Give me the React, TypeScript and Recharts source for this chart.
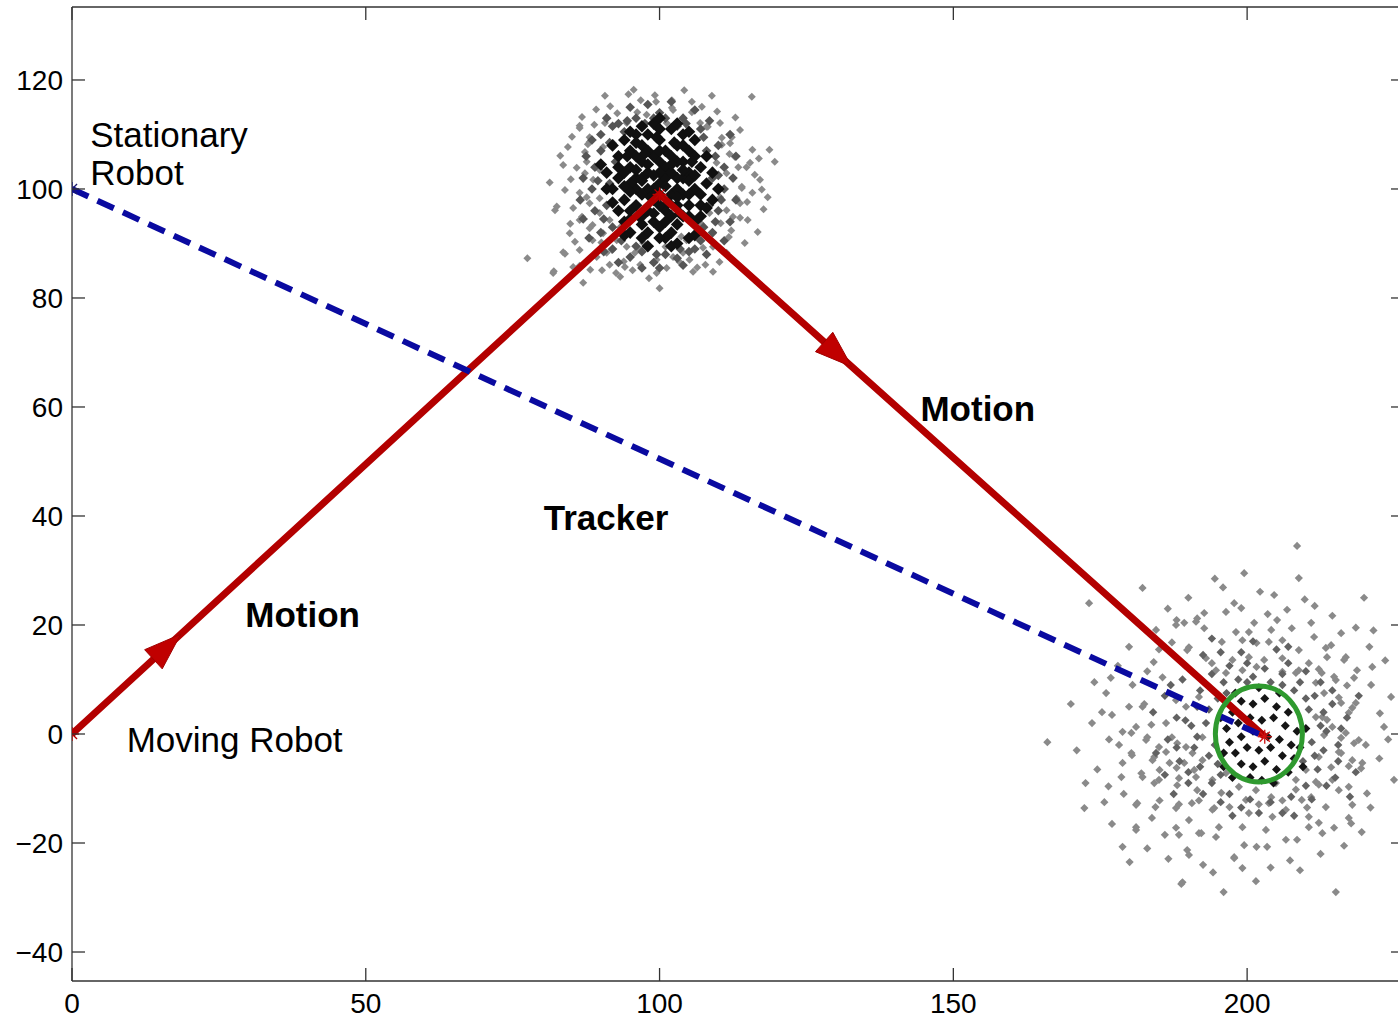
import React from 'react';
import { ScatterChart, Scatter, XAxis, YAxis } from 'recharts';

// ---------- axes ----------
const xTicks = [0, 50, 100, 150, 200];
const yTicks = [-40, -20, 0, 20, 40, 60, 80, 100, 120];
const X_DOMAIN: [number, number] = [0, 226.7];
const Y_DOMAIN: [number, number] = [-45.32, 133.39];

// ---------- paths ----------
const trackerPath: [number, number][] = [[0, 100], [203, -0.5]];
const motionPath: [number, number][] = [[0, 0], [100, 99], [203, -0.5]];
// arrow tips with direction (data units)
const arrows = [
  { x: 18.5, y: 18.3, dx: 1, dy: 0.99 },
  { x: 132.7, y: 67.4, dx: 1, dy: -0.966 },
];
// green ellipse (centre, radii in data units)
const ellipses = [{ x: 202, y: 0, rx: 7.4, ry: 8.8 }];
// star markers
const stars = [
  { x: 0, y: 100, color: '#1a1a70' },
  { x: 0, y: 0, color: '#b30000' },
  { x: 100, y: 99, color: '#c00000' },
  { x: 203, y: -0.5, color: '#d01010' },
];
// text annotations
const labels = [
  { x: 3.1, y: 107.7, text: 'Stationary', bold: false },
  { x: 3.1, y: 100.7, text: 'Robot', bold: false },
  { x: 9.3, y: -3.3, text: 'Moving Robot', bold: false },
  { x: 29.5, y: 19.6, text: 'Motion', bold: true },
  { x: 144.4, y: 57.4, text: 'Motion', bold: true },
  { x: 80.3, y: 37.4, text: 'Tracker', bold: true },
];

// ---------- particle clouds ----------
const topOuter: [number, number][] = [
  [90.7, 117.1], [99.2, 117.2], [99.4, 116], [108.9, 117.1], [115.7, 116.9], [102.1, 114.9], [105.5, 116], [86.8, 113.2],
  [92.8, 113.9], [96.2, 114.1], [97.8, 113.6], [86.4, 111.2], [90.7, 112.1], [94.4, 112.1], [101.2, 112.1], [105.5, 114.1],
  [108, 111.4], [110.3, 112.1], [113.7, 110.8], [112.3, 109.5], [84.4, 107.7], [88.1, 108.6], [87.3, 106.8], [110.6, 108.1],
  [115.8, 107.2], [118.7, 107.2], [119.6, 105], [83.6, 104.4], [85.9, 103.9], [87.6, 105], [113.4, 104], [115.4, 104.8],
  [117.1, 101.7], [83.9, 99.8], [86.4, 99.3], [82.2, 96.1], [85.3, 96.5], [88.1, 97.4], [114, 100.4], [115.8, 99.3],
  [118.4, 98.5], [113.7, 97.4], [86.4, 94.3], [88.6, 93.4], [112.5, 94.9], [115, 94.3], [84.7, 91.9], [116.7, 92.1],
  [83.6, 88.4], [86.4, 88.8], [88.6, 90.6], [91, 88.3], [94.4, 89.4], [96.7, 88.8], [104, 88.3], [106.9, 90.6],
  [109.1, 89.4], [111.4, 88.3], [81.9, 84.6], [85.3, 85.7], [90.2, 85.1], [93.3, 83.9], [96.7, 86.1], [100, 81.8],
  [105.7, 84.8], [109.1, 84.8], [103.4, 86.6], [99.5, 87], [86.4, 111.6], [88.1, 109.5], [87.8, 108.2], [90.4, 107.7],
  [92.1, 108.4], [87.3, 102.9], [89.8, 103.5], [88.7, 101.7], [91.2, 100.4], [87.6, 98.5], [89.8, 98.3], [82.5, 96.8],
  [86.8, 94.9], [89.8, 95.6], [91.5, 94.3], [88.1, 92.8], [90.4, 91.9], [93.3, 93], [92.7, 90.6], [95, 91.9],
  [91.9, 88.8], [89.3, 87.5], [86.4, 85.9], [91.5, 86.1], [94.1, 85.7], [83.9, 88.1], [82, 84.9], [87, 82.8],
  [99.5, 84.6], [95.8, 88.3], [102.1, 116.3], [102.3, 114.5], [106.9, 112.1], [108.2, 111.4], [110.6, 109.4], [112, 108.4],
  [112.8, 105.9], [114.8, 104], [109.7, 104.8], [111.4, 102.9], [114, 100.2], [113.1, 98.3], [110.3, 98.5], [111.4, 96.1],
  [108.5, 95.6], [113.7, 94.7], [106.9, 93.8], [109.1, 91.9], [104.6, 90.6], [107.4, 89.2], [114.5, 90.1], [101, 89.4],
  [102.3, 87.5], [105.1, 87], [101.2, 85.5], [77.5, 87.3], [94.7, 117.4], [116.2, 102.6], [84.9, 101.8], [111.8, 91.2],
  [93.9, 86.7], [107.8, 86.1], [117.7, 96.3], [85.6, 90.3], [89.2, 114.6], [112.9, 113.1], [104.2, 118.1], [96.8, 116.3],
  [85.1, 109.6], [88.9, 111.8], [91.6, 115.2], [95.6, 118.2], [107.2, 115.1], [109.8, 114.2], [111.9, 106.4], [116.9, 105.6],
  [117.4, 99.9], [112.2, 92.4], [110.2, 86.6], [106.4, 85.6], [98.2, 83.6], [95.4, 85.1], [92.6, 84.6], [88.2, 85.2],
  [84.8, 93.6], [81.3, 101.2], [83.1, 106.1], [90.1, 90.2], [110.4, 93.7], [114.9, 97.6], [97.2, 90.1], [103.7, 91.3],
];
const topMid: [number, number][] = [
  [90, 110], [93, 112], [96, 113], [100, 114], [104, 113], [107, 111], [110, 108], [111, 104], [111, 100], [110, 96],
  [109, 92], [106, 89], [103, 87.3], [99, 86.5], [95, 87.5], [92, 89], [90, 92], [89, 96], [88.5, 100], [89, 104],
  [90, 107], [92, 111.5], [95, 115], [98, 115.5], [102, 116], [106, 114.5], [108.5, 112.5], [112, 110], [113, 106], [112.5, 102],
  [113, 98], [112, 94], [111, 90.5], [108, 88], [104, 86], [100, 85.5], [97, 85.5], [93, 86.5], [90.5, 88.5], [88, 91],
  [87, 94.5], [86.5, 98], [87, 102], [87.5, 106], [88.5, 109], [91, 113], [94, 110.5], [108, 107], [109, 102], [108.5, 97],
  [107.5, 93], [92, 93], [91, 97], [91.5, 101], [92.5, 105], [97, 88.5], [101, 88], [105, 88.5], [99, 113], [103, 111.5],
  [89.5, 101.5], [90.5, 94.5], [93.5, 90.5], [96, 89.5], [99.5, 88], [103.5, 89], [107, 90.5], [109.5, 94], [110.5, 98],
  [110, 102.5], [109.5, 106], [107.5, 109.5], [104.5, 112], [101, 113], [97.5, 112], [94.5, 112.5], [91.5, 108.5], [90, 104.5],
];
const topCore: [number, number][] = [
  [100, 101], [98, 103], [102, 99], [96, 100], [104, 102], [99, 106], [101, 96], [97, 95], [103, 105], [95, 104],
  [105, 97], [100, 109], [98, 92], [102, 92], [94, 98], [106, 100], [97, 108], [103, 108], [93, 102], [107, 104],
  [99, 98], [101, 104], [96, 97], [104, 95], [95, 107], [105, 107], [100, 93], [98, 110], [102, 111], [94, 94],
  [106, 94], [93, 106], [107, 97], [96, 102], [104, 99], [99, 100], [101, 102], [97, 105], [103, 102], [100, 97],
  [98, 96], [102, 95], [95, 101], [105, 103], [100, 105], [96, 110], [104, 110], [92, 100], [108, 101], [99, 112],
  [97, 91], [103, 90], [94, 109], [106, 109], [95, 92], [105, 91], [101, 107], [98, 100], [102, 103], [100, 99],
  [96, 106], [104, 105], [93, 96], [107, 95], [99, 94], [101, 91], [97, 99], [103, 97], [95, 96], [105, 99],
  [100, 103], [98, 107], [102, 106], [94, 103], [106, 106], [91, 103], [109, 98], [100, 111], [97, 102], [103, 100],
  [99, 102.5], [101, 100.5], [97, 101.5], [103, 98.5], [95, 99.5], [105, 101.5], [98, 104.5], [102, 104.5], [100, 107], [96, 103.5],
  [104, 103.5], [99, 95.5], [101, 94], [97, 93.5], [103, 93.5], [95, 94.5], [105, 95], [94, 100.5], [106, 102.5], [100, 91],
  [98, 89.5], [102, 89.5], [96, 108.5], [104, 108], [93, 104], [107, 99], [92, 97.5], [108, 96.5], [100, 113], [97, 111.5],
  [103, 112], [95, 110.5], [105, 110.5], [91, 100], [109, 103], [94, 91.5], [106, 91.5], [92, 108], [108, 106], [90, 104.5],
  [110, 100], [98.5, 98.5], [101.5, 97.5], [96.5, 95], [103.5, 95.5], [99.5, 109.5], [97.5, 106.5], [102.5, 108.5], [94.5, 106], [105.5, 105],
];
const bottomOuter: [number, number][] = [
  [182.2, 26.8], [208.8, 28.6], [202.2, 26.1], [204.6, 25.5], [219.9, 25], [173.1, 24], [197.8, 24], [199, 23.1],
  [206.8, 22.8], [192.7, 22.2], [196.4, 22.4], [191.3, 20.6], [189.3, 20.4], [187.9, 20], [201.2, 20.4], [205.1, 20.9],
  [210.9, 20.4], [192.7, 19.4], [198.1, 18.7], [200.3, 18.7], [204.1, 19.1], [207.6, 19.4], [179.9, 16], [195.7, 16.9],
  [199.2, 17.2], [201.6, 16.7], [203.7, 16.9], [206, 17.2], [208.8, 15.4], [213.4, 15.8], [213.6, 14.1], [216.8, 14.1],
  [220.8, 16], [221.3, 12.3], [189.8, 15.4], [193, 13.9], [197.5, 13.6], [200.3, 14.1], [202.9, 13.6], [206, 13.9],
  [210.5, 13], [194.7, 11.7], [199.2, 11.7], [201.6, 12.3], [206, 11.4], [208.3, 11.2], [212.7, 11.2], [215.1, 9.9],
  [218.2, 10.3], [221.1, 9], [211.7, 9.4], [224.5, 6.8], [223.3, 1.3], [179.9, 5], [182.2, 5], [187.9, 6.2],
  [189.6, 5], [191.8, 6.8], [175.3, 4], [177, 3.5], [173.6, 2], [178.8, 0.4], [181.1, 1.3], [183.7, 1.7],
  [186.2, 2], [178.2, -2], [182.8, -1.1], [185, -2.4], [187.2, -0.6], [189.6, -2.4], [192.4, -0.6], [180.3, -3.5],
  [183.9, -4.8], [186.8, -5.3], [189.3, -5.3], [192.4, -4.8], [178.6, -7.9], [182.2, -7.9], [185, -8.4], [188.4, -8.1],
  [191.3, -7.9], [194.1, -8.4], [196.4, -7.2], [198.6, -9.7], [201.5, -10.3], [204.9, -9], [208.3, -8.4], [211.7, -8.8],
  [214.5, -8.4], [217.3, -9.7], [219.6, -5.3], [217.9, -4.8], [216, -3.5], [219, -1.1], [216.8, 0.2], [214.5, 1.3],
  [212.8, 3.1], [217.3, 3.9], [216, 5.7], [218.5, 5.7], [172.3, -13.6], [175.7, -12.5], [181.1, -13], [184.4, -13.4],
  [187.9, -13.6], [190.6, -12.7], [194.1, -13.9], [197, -13.4], [200.3, -14.5], [203.7, -12.7], [206.6, -13.9], [209.3, -12.1],
  [213.4, -13.4], [217.9, -13], [217.3, -15.4], [181.1, -17.1], [187.9, -17.2], [191.8, -18.2], [194.7, -18.9], [199.2, -17.1],
  [203.2, -17.6], [206.6, -19.4], [210.5, -17.1], [212.8, -18.2], [178.8, -20.7], [189.8, -21.3], [197.8, -22.6], [199.2, -24.6],
  [201.6, -20.7], [189, -27.2], [215.1, -29], [210.5, -15.2], [195.6, -10.8], [166, -1.5], [208.5, 34.5], [214.3, 16.3],
  [216.5, 13.6], [218.7, 11.7], [217, 8.9], [212.2, 11.9], [208.8, 11.7], [214.8, 10.5], [213.1, 7.5], [215.6, 6.7],
  [217.9, 4.8], [220.2, -2], [218.2, -1.7], [216, -0.7], [213.6, 2.6], [211.7, 3.1], [213.1, -0.2], [215.6, -3.3],
  [212.2, -4.2], [214.3, -6.1], [217.3, -5.9], [219.4, -6.3], [225, -8.4], [212.2, -9.3], [215.6, -10.3], [210, -6.6],
  [208.3, -10.2], [210.9, -11.6], [217.7, -16.4], [210.2, -13.5], [206, -12.2], [204.1, -11.6], [202, -12.9], [199.8, -12.1],
  [204.3, -15.2], [212.2, -16.3], [214.8, -17.2], [208.5, -19.4], [203.4, -20.7], [199.5, -20.4], [188, 20.9], [191.5, 21.2],
  [194, 13], [196.4, 11.2], [190.1, 15.9], [182.5, 5.5], [180.3, 0.2], [183, -0.6], [180.4, -3.9], [184.2, -4.2],
  [186.2, -3.3], [188.1, -1.7], [190.7, -3.5], [178.8, -5.3], [182, -7.2], [185.1, -6.6], [188, -6.2], [191, -6.6],
  [184.2, -9], [188.1, -9.4], [191.5, -10.3], [181.3, -12.7], [185.1, -12.2], [188.4, -12.9], [191.8, -12.2], [194.4, -13.6],
  [183.8, -15.4], [190.1, -15.8], [181.1, -17.6], [188.4, -18.5], [192.2, -18.2], [195.2, -17.1], [190.1, -22.2], [197.8, -22.8],
  [188.8, -27.5], [185.6, 10.4], [184.1, 13.2], [187.2, 16.8], [222.6, 3.8], [220.4, -10.9], [176.4, -9.6], [195.9, 26.9],
  [209.8, 24.7], [214.5, 21.7], [186.6, -22.9], [207.3, -23.2], [194.2, -25.4], [211.4, 17.8], [184.5, 19.1], [176.8, 10.3],
  [176, 7.5], [178, 12.5], [180.5, 9], [183, 11.5], [185, 15.5], [186.5, 23], [190, 25], [194.5, 28.5],
  [199.5, 29.5], [203.5, 22], [211.5, 23.5], [216, 18.5], [218.5, 19.5], [221.5, 19], [223.5, 13.5], [222.5, -4.5],
  [224, -1], [221, -13.5], [219.5, -18], [216.5, -20.5], [212.5, -22], [209, -25], [204, -24.5], [201.5, -27],
  [196, -29], [192.5, -24], [186, -18.5], [183, -21], [180, -23.5], [177, -16.5], [174.5, -6.5], [171, -3],
  [170, 5.5], [174, 9.5], [176.5, -1], [179, -11], [172.5, -9],
];
const bottomMid: [number, number][] = [
  [192, 8], [194, 11], [197, 12.5], [200, 13], [203, 12], [206, 11], [209, 9.5], [211.5, 7], [213, 4], [213.5, 0.5],
  [213, -3], [212, -6.5], [210, -9.5], [207.5, -11.5], [204, -12.5], [200.5, -12], [197, -11], [194, -9], [192, -6], [191, -2.5],
  [190.5, 1.5], [191.5, 5], [195, 6.5], [193, 2], [193.5, -4], [195.5, -7.5], [210.5, 4.5], [211, -1.5], [209.5, -5], [196, 9.5],
  [208, 8], [189, 10], [188, 3], [188.5, -5], [190, -9], [214.5, 8], [215.5, -2], [215, -8], [199, 15], [205, 15.5],
  [186, 7], [186.5, -1], [217, 3], [202, -14.5], [197.5, -15], [208, -15],
  [187, 9], [189.5, 12.5], [192.5, 14.5], [195.5, 15], [198.5, 10], [201, 10.5], [204, 9.5], [207, 13], [210, 11.5], [212.5, 9.5],
  [214.5, 5.5], [216, 1], [215.5, -5], [213.5, -9.5], [211, -12], [206, -14.5], [199, -13.5], [195.5, -12.5], [192.5, -11], [190, -7],
  [188, -2.5], [189.5, 2.5], [191.5, -0.5], [193.5, 4.5], [194.5, -2], [195, -5.5], [211.5, -4], [212.5, 1.5], [210, 6.5], [206, 9],
  [200, 9.5], [196.5, 7.5], [184, 4], [184.5, -3.5], [186, -7.5], [187.5, -11], [219, 7], [218.5, -7], [217.5, -11.5], [201, 17],
  [207, 16], [194, 17.5],
];
const bottomCore: [number, number][] = [
  [197.5, 4], [199, 6], [201, 5.5], [203, 6.5], [205, 5], [207, 4], [196.5, 1], [198.5, 2], [200.5, 3], [202.5, 2.5],
  [204.5, 3], [206.5, 1.5], [208.5, 0.5], [197, -1.5], [199, -0.5], [201, 0.5], [203.5, -0.5], [205.5, -1], [207.5, -2], [198, -3.5],
  [200, -2.5], [202, -3], [204, -2.5], [206, -4], [208, -4.5], [199, -5.5], [201, -6], [203, -5], [205, -6.5], [207, -7],
  [200.5, -8], [202.5, -8.5], [204.5, -9], [196, -6], [197.5, -8], [209, -2.5], [210, 1], [198, 7.5], [202, 8.5], [205.5, 7.5],
  [195.5, 3], [196, -3.5], [209.5, -6],
];

// ---------- geometry ----------
const CHART_W = 1420;
const CHART_H = 1018;
const MARGIN = { top: 6, right: 15, bottom: 0, left: 0 };
const Y_AXIS_W = 72;
const X_AXIS_H = 37;
const TOP_AXIS_H = 1;
const PLOT_W = CHART_W - MARGIN.left - MARGIN.right - Y_AXIS_W;
const PLOT_H = CHART_H - MARGIN.top - MARGIN.bottom - X_AXIS_H - TOP_AXIS_H;
const PX = PLOT_W / (X_DOMAIN[1] - X_DOMAIN[0]);
const PY = PLOT_H / (Y_DOMAIN[1] - Y_DOMAIN[0]);

const FONT = '"Liberation Sans", Arial, Helvetica, sans-serif';
const AXIS = '#333333';
const TICK_LEN = 13;

const toPts = (arr: [number, number][]) => arr.map(([x, y]) => ({ x, y }));
const fmt = (v: number) => (v < 0 ? '\u2212' + Math.abs(v) : String(v));

const diamond = (fill: string, r: number) => (props: any) => {
  const { cx, cy } = props;
  if (cx == null || cy == null) return <g />;
  return (
    <path
      d={`M${cx} ${cy - r}L${cx + r} ${cy}L${cx} ${cy + r}L${cx - r} ${cy}Z`}
      fill={fill}
    />
  );
};

const Empty = () => <g />;

const ArrowHead = (props: any) => {
  const { cx, cy, payload } = props;
  if (cx == null) return <g />;
  const ang = Math.atan2(-payload.dy * PY, payload.dx * PX);
  const L = 37;
  const W = 13;
  const c = Math.cos(ang);
  const s = Math.sin(ang);
  const bx = cx - L * c;
  const by = cy - L * s;
  const p1 = [bx - W * s, by + W * c];
  const p2 = [bx + W * s, by - W * c];
  return (
    <path
      d={`M${cx} ${cy}L${p1[0]} ${p1[1]}L${p2[0]} ${p2[1]}Z`}
      fill="#c00000"
      stroke="#a00000"
      strokeWidth={1}
    />
  );
};

const EllipseShape = (props: any) => {
  const { cx, cy, payload } = props;
  if (cx == null) return <g />;
  return (
    <ellipse
      cx={cx}
      cy={cy}
      rx={payload.rx * PX}
      ry={payload.ry * PY}
      fill="none"
      stroke="#2f9a2f"
      strokeWidth={5}
    />
  );
};

const StarShape = (props: any) => {
  const { cx, cy, payload } = props;
  if (cx == null) return <g />;
  const r = 7;
  const d = r * 0.72;
  return (
    <g stroke={payload.color} strokeWidth={1.3}>
      <line x1={cx - r} y1={cy} x2={cx + r} y2={cy} />
      <line x1={cx} y1={cy - r} x2={cx} y2={cy + r} />
      <line x1={cx - d} y1={cy - d} x2={cx + d} y2={cy + d} />
      <line x1={cx - d} y1={cy + d} x2={cx + d} y2={cy - d} />
    </g>
  );
};

const LabelShape = (props: any) => {
  const { cx, cy, payload } = props;
  if (cx == null) return <g />;
  return (
    <text
      x={cx}
      y={cy}
      fontSize={35}
      fontFamily={FONT}
      fontWeight={payload.bold ? 'bold' : 'normal'}
      fill="#000"
    >
      {payload.text}
    </text>
  );
};

const BottomTick = (props: any) => {
  const { x, y, payload } = props;
  return (
    <g>
      <line x1={x} x2={x} y1={y} y2={y - TICK_LEN} stroke={AXIS} strokeWidth={1.3} />
      <text x={x} y={y + 32} textAnchor="middle" fontSize={28} fontFamily={FONT} fill="#000">
        {fmt(payload.value)}
      </text>
    </g>
  );
};
const LeftTick = (props: any) => {
  const { x, y, payload } = props;
  return (
    <g>
      <line x1={x} x2={x + TICK_LEN} y1={y} y2={y} stroke={AXIS} strokeWidth={1.3} />
      <text x={x - 9} y={y + 10} textAnchor="end" fontSize={28} fontFamily={FONT} fill="#000">
        {fmt(payload.value)}
      </text>
    </g>
  );
};
const TopTick = (props: any) => {
  const { x, y } = props;
  return <line x1={x} x2={x} y1={y} y2={y + TICK_LEN} stroke={AXIS} strokeWidth={1.3} />;
};
const RightTick = (props: any) => {
  const { x, y } = props;
  return <line x1={x - TICK_LEN} x2={x} y1={y} y2={y} stroke={AXIS} strokeWidth={1.3} />;
};

export default function App() {
  return (
    <div
      style={{
        position: 'absolute',
        left: 0,
        top: 0,
        width: 1398,
        height: 1018,
        overflow: 'hidden',
        background: '#fff',
      }}
    >
      <ScatterChart width={CHART_W} height={CHART_H} margin={MARGIN}>
        <XAxis
          xAxisId={0}
          type="number"
          dataKey="x"
          domain={X_DOMAIN}
          ticks={xTicks}
          allowDataOverflow
          height={X_AXIS_H}
          tickSize={0}
          tickMargin={0}
          tickLine={false}
          axisLine={{ stroke: AXIS, strokeWidth: 1.3 }}
          tick={<BottomTick />}
          interval={0}
        />
        <XAxis
          xAxisId="top"
          orientation="top"
          type="number"
          dataKey="x"
          domain={X_DOMAIN}
          ticks={xTicks}
          allowDataOverflow
          height={TOP_AXIS_H}
          tickSize={0}
          tickMargin={0}
          tickLine={false}
          axisLine={{ stroke: AXIS, strokeWidth: 1.3 }}
          tick={<TopTick />}
          interval={0}
        />
        <YAxis
          yAxisId={0}
          type="number"
          dataKey="y"
          domain={Y_DOMAIN}
          ticks={yTicks}
          allowDataOverflow
          width={Y_AXIS_W}
          tickSize={0}
          tickMargin={0}
          tickLine={false}
          axisLine={{ stroke: AXIS, strokeWidth: 1.3 }}
          tick={<LeftTick />}
          interval={0}
        />
        <YAxis
          yAxisId="right"
          orientation="right"
          type="number"
          dataKey="y"
          domain={Y_DOMAIN}
          ticks={yTicks}
          allowDataOverflow
          width={1}
          tickSize={0}
          tickMargin={0}
          tickLine={false}
          axisLine={{ stroke: AXIS, strokeWidth: 1.3 }}
          tick={<RightTick />}
          interval={0}
        />

        <Scatter data={toPts(topOuter)} shape={diamond('#8a8a8a', 4)} isAnimationActive={false} />
        <Scatter data={toPts(bottomOuter)} shape={diamond('#8a8a8a', 4.1)} isAnimationActive={false} />
        <Scatter data={toPts(topMid)} shape={diamond('#555555', 4.8)} isAnimationActive={false} />
        <Scatter data={toPts(bottomMid)} shape={diamond('#626262', 4.2)} isAnimationActive={false} />
        <Scatter data={toPts(topCore)} shape={diamond('#101010', 6.3)} isAnimationActive={false} />
        <Scatter data={toPts(bottomCore)} shape={diamond('#151515', 4.5)} isAnimationActive={false} />

        <Scatter
          data={toPts(motionPath)}
          fill="#b30000"
          line={{ stroke: '#b30000', strokeWidth: 7, strokeLinejoin: 'miter' }}
          shape={<Empty />}
          isAnimationActive={false}
        />
        <Scatter data={arrows} shape={<ArrowHead />} isAnimationActive={false} />
        <Scatter
          data={toPts(trackerPath)}
          fill="#0a0aa0"
          line={{ stroke: '#0a0aa0', strokeWidth: 6, strokeDasharray: '18 10' }}
          shape={<Empty />}
          isAnimationActive={false}
        />
        <Scatter data={ellipses} shape={<EllipseShape />} isAnimationActive={false} />
        <Scatter
          data={stars}
          xAxisId="top"
          yAxisId="right"
          shape={<StarShape />}
          isAnimationActive={false}
        />
        <Scatter data={labels} shape={<LabelShape />} isAnimationActive={false} />
      </ScatterChart>
    </div>
  );
}
